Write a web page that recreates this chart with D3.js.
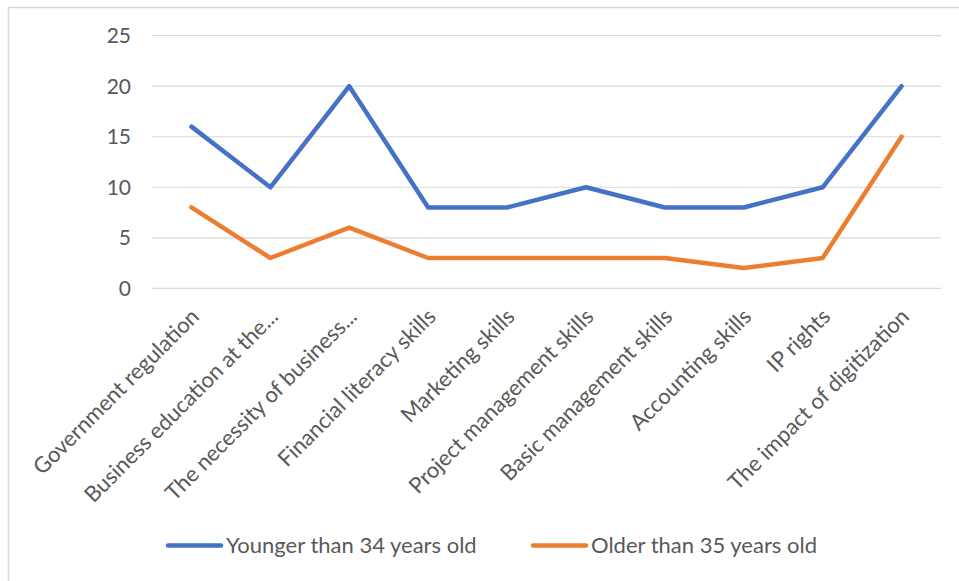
<!DOCTYPE html>
<html>
<head>
<meta charset="utf-8">
<script src="https://cdn.jsdelivr.net/npm/d3@7"></script>
<style>
  body { margin: 0; background: white; }
  svg { display: block; }
  text { font-family: Lato, "Open Sans", sans-serif; fill: #595959; }
</style>
</head>
<body>
<div id="chart"></div>
<script>
var categories = [
  "Government regulation",
  "Business education at the...",
  "The necessity of business...",
  "Financial literacy skills",
  "Marketing skills",
  "Project management skills",
  "Basic management skills",
  "Accounting skills",
  "IP rights",
  "The impact of digitization"
];
var younger = [16, 10, 20, 8, 8, 10, 8, 8, 10, 20];
var older = [8, 3, 6, 3, 3, 3, 3, 2, 3, 15];
var seriesNames = ["Younger than 34 years old", "Older than 35 years old"];
var yTicks = [0, 5, 10, 15, 20, 25];

var W = 959, H = 581;
var plot = { left: 152, right: 941, top: 35.7, bottom: 288.3 };

var svg = d3.select("#chart")
  .append("svg")
  .attr("width", W)
  .attr("height", H);

// outer frame of the chart (only top/left visible in the shot)
svg.append("rect")
  .attr("x", 8.5).attr("y", 7.5)
  .attr("width", W + 20).attr("height", H + 20)
  .attr("fill", "white")
  .attr("stroke", "#d9d9d9")
  .attr("stroke-width", 1.5);

var xscale = d3.scaleBand()
  .domain(categories)
  .range([plot.left, plot.right]);

var yscale = d3.scaleLinear()
  .domain([0, 25])
  .range([plot.bottom, plot.top]);

// gridlines
svg.append("g")
  .selectAll("line")
  .data(yTicks)
  .enter().append("line")
  .attr("x1", plot.left)
  .attr("x2", plot.right)
  .attr("y1", d => yscale(d))
  .attr("y2", d => yscale(d))
  .attr("stroke", "#d9d9d9")
  .attr("stroke-width", 1.2);

// y labels
svg.append("g")
  .selectAll("text")
  .data(yTicks)
  .enter().append("text")
  .attr("x", 131)
  .attr("y", d => yscale(d))
  .attr("dy", "0.35em")
  .attr("text-anchor", "end")
  .style("font-size", "21px")
  .text(d => d);

// x labels, rotated
svg.append("g")
  .selectAll("text")
  .data(categories)
  .enter().append("text")
  .attr("text-anchor", "end")
  .attr("transform", d => "translate(" + (xscale(d) + xscale.bandwidth() / 2 + 9) + ",318)rotate(-45)")
  .style("font-size", "22px")
  .text(d => d);

var line = d3.line()
  .x((d, i) => xscale(categories[i]) + xscale.bandwidth() / 2)
  .y(d => yscale(d));

var colors = ["#4472C4", "#ED7D31"];

svg.append("path")
  .datum(older)
  .attr("fill", "none")
  .attr("stroke", colors[1])
  .attr("stroke-width", 4.5)
  .attr("stroke-linejoin", "round")
  .attr("stroke-linecap", "round")
  .attr("d", line);

svg.append("path")
  .datum(younger)
  .attr("fill", "none")
  .attr("stroke", colors[0])
  .attr("stroke-width", 4.5)
  .attr("stroke-linejoin", "round")
  .attr("stroke-linecap", "round")
  .attr("d", line);

// legend
var legendX = [168, 533];
var legend = svg.append("g")
  .selectAll("g")
  .data(seriesNames)
  .enter().append("g")
  .attr("transform", (d, i) => "translate(" + legendX[i] + ",545.5)");

legend.append("line")
  .attr("x1", 0).attr("x2", 53)
  .attr("stroke", (d, i) => colors[i])
  .attr("stroke-width", 4.5)
  .attr("stroke-linecap", "round");

legend.append("text")
  .attr("x", 58)
  .attr("dy", "0.35em")
  .style("font-size", "22px")
  .text(d => d);
</script>
</body>
</html>
